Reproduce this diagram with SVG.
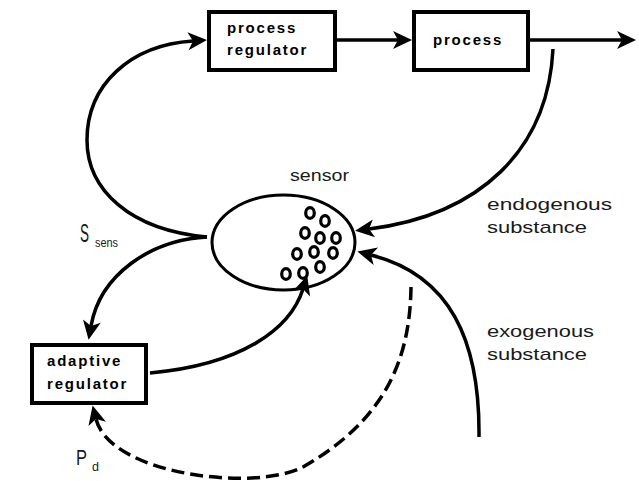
<svg xmlns="http://www.w3.org/2000/svg" width="639" height="481" viewBox="0 0 639 481">
<style>
.box{fill:#fff;stroke:#000;stroke-width:4}
.bl{font-family:"Liberation Sans",Arial,sans-serif;font-weight:bold;font-size:15px;letter-spacing:1.8px;fill:#000}
.lt{font-family:"Liberation Sans",Arial,sans-serif;font-size:17px;fill:#1a1a1a}
.big{font-size:26px}
.big2{font-size:22px}
.sub{font-size:12px}
.con{fill:none;stroke:#000;stroke-width:3.5;marker-end:url(#ah)}
.dash{stroke-dasharray:13 6}
.gr{fill:none;stroke:#000;stroke-width:3.2}
</style>
<defs>
<marker id="ah" markerUnits="userSpaceOnUse" markerWidth="26" markerHeight="26" viewBox="-2 -13 26 26" refX="5" refY="0" orient="auto">
<path d="M0,-9 L19,0 L0,9 L5,0 Z" fill="#000"/>
</marker>
</defs>
<g id="connectors">
<path class="con" d="M337,40 L398,40"/>
<path class="con" d="M530,40 L622,40"/>
<path class="con" d="M207,237 C130,230 87,190 87,140 C87,85 130,45 193,41"/>
<path class="con" d="M207,237 C150,240 100,275 91,326"/>
<path class="con" d="M553,49 C548,150 480,215 369,229"/>
<path class="con" d="M479,437 C480,340 450,275 371,255"/>
<path class="con" d="M150,373 C240,365 290,330 303,289"/>
<path class="con dash" d="M411,287 C410,360 385,420 303,467 C255,492 110,475 96,419"/>
</g>
<g id="process-regulator">
<rect class="box" x="209" y="12" width="126" height="58"/>
<text class="bl" x="227" y="33">process</text>
<text class="bl" x="227" y="55">regulator</text>
</g>
<g id="process">
<rect class="box" x="414" y="12" width="114" height="58"/>
<text class="bl" x="433" y="45">process</text>
</g>
<g id="sensor">
<ellipse cx="283.5" cy="242.5" rx="71.5" ry="47.5" fill="none" stroke="#000" stroke-width="3"/>
<g class="gr">
<ellipse cx="310" cy="213" rx="4.3" ry="5.3"/>
<ellipse cx="325" cy="221" rx="4.3" ry="5.3"/>
<ellipse cx="305" cy="233" rx="4.3" ry="5.3"/>
<ellipse cx="320" cy="238" rx="4.3" ry="5.3"/>
<ellipse cx="336" cy="238" rx="4.3" ry="5.3"/>
<ellipse cx="297" cy="254" rx="4.3" ry="5.3"/>
<ellipse cx="314" cy="252" rx="4.3" ry="5.3"/>
<ellipse cx="333" cy="253" rx="4.3" ry="5.3"/>
<ellipse cx="286" cy="274" rx="4.3" ry="5.3"/>
<ellipse cx="303" cy="273" rx="4.3" ry="5.3"/>
<ellipse cx="320" cy="267" rx="4.3" ry="5.3"/>
</g>
<text class="lt" x="290" y="181" textLength="59" lengthAdjust="spacingAndGlyphs">sensor</text>
</g>
<g id="adaptive-regulator">
<rect class="box" x="32" y="345" width="114" height="58"/>
<text class="bl" x="47" y="366">adaptive</text>
<text class="bl" x="47" y="389">regulator</text>
</g>
<g id="labels">
<text class="lt" x="487" y="210" textLength="125" lengthAdjust="spacingAndGlyphs">endogenous</text>
<text class="lt" x="487" y="233" textLength="100" lengthAdjust="spacingAndGlyphs">substance</text>
<text class="lt" x="487" y="337" textLength="107" lengthAdjust="spacingAndGlyphs">exogenous</text>
<text class="lt" x="487" y="360" textLength="100" lengthAdjust="spacingAndGlyphs">substance</text>
<text class="lt big" x="80" y="242" textLength="9" lengthAdjust="spacingAndGlyphs">S</text>
<text class="lt sub" x="95" y="247" textLength="23" lengthAdjust="spacingAndGlyphs">sens</text>
<text class="lt big2" x="76" y="465" textLength="11" lengthAdjust="spacingAndGlyphs">P</text>
<text class="lt sub" x="92" y="471" textLength="7" lengthAdjust="spacingAndGlyphs">d</text>
</g>
</svg>
